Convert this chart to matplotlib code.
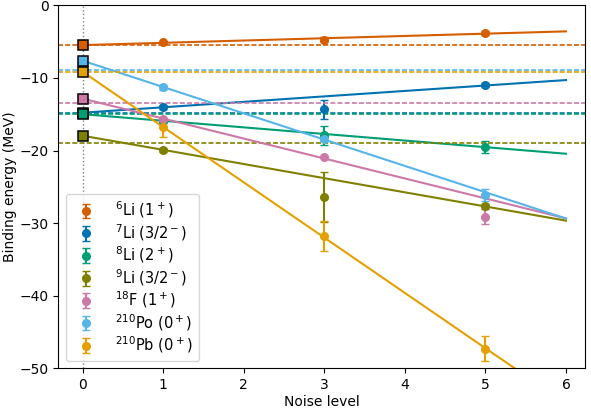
import numpy as np
import matplotlib
matplotlib.use("Agg")
import matplotlib.pyplot as plt

# noise levels where the noisy runs were done
noise = [1, 3, 5]

labels = [r"$^{6}$Li (1$^+$)", r"$^{7}$Li (3/2$^-$)", r"$^{8}$Li (2$^+$)",
          r"$^{9}$Li (3/2$^-$)", r"$^{18}$F (1$^+$)", r"$^{210}$Po (0$^+$)",
          r"$^{210}$Pb (0$^+$)"]
colors = ["#D55E00", "#0072B2", "#009E73", "#808000", "#CC79A7", "#56B4E9", "#E69F00"]

# binding energies at each noise level (MeV)
li6 = [-5.1, -4.73, -3.81]
li7 = [-14.0, -14.3, -11.0]
li8 = [-15.9, -17.9, -19.5]
li9 = [-19.9, -26.4, -27.7]
f18 = [-15.7, -20.9, -29.1]
po210 = [-11.3, -18.4, -26.1]
pb210 = [-16.8, -31.8, -47.3]

li6_err = [0.25, 0.3, 0.3]
li7_err = [0.3, 1.3, 0.3]
li8_err = [0.3, 1.3, 0.85]
li9_err = [0.3, 3.5, 0.3]
f18_err = [0.2, 0.2, 1.0]
po210_err = [0.3, 0.3, 0.8]
pb210_err = [1.3, 2.05, 1.75]

# noiseless reference energies (dashed lines)
exact = [-5.46, -14.78, -14.95, -18.97, -13.5, -8.86, -9.14]

values = [li6, li7, li8, li9, f18, po210, pb210]
errors = [li6_err, li7_err, li8_err, li9_err, f18_err, po210_err, pb210_err]

fig = plt.figure(figsize=(5.91, 4.08), dpi=100)
ax = fig.add_axes([0.0987, 0.0973, 0.8917, 0.8897])

ax.axvline(0, color="gray", ls=":", lw=1, zorder=0)

xs = np.array([0, 6])
for lab, c, y, e, ex in zip(labels, colors, values, errors, exact):
    # weighted linear fit, extrapolated to zero noise
    p = np.polyfit(noise, y, 1, w=1 / np.array(e))
    ax.axhline(ex, color=c, ls=(0, (3, 1.3)), lw=1.2)
    ax.plot(xs, np.polyval(p, xs), color=c, lw=1.5)
    ax.errorbar(noise, y, yerr=e, fmt="o", color=c, ms=5.5, capsize=3, label=lab)
    ax.plot([0], [p[1]], "s", color=c, mec="black", mew=1.1, ms=6.5, zorder=5)

ax.set_xlim(-0.3, 6.24)
ax.set_ylim(-50, 0)
ax.set_xticks(range(7))
ax.set_yticks([0, -10, -20, -30, -40, -50])
ax.set_xlabel("Noise level", labelpad=2)
ax.set_ylabel("Binding energy (MeV)", labelpad=2)
ax.legend(loc="lower left", fontsize=10.5, labelspacing=0.12, handletextpad=1.0)

fig.savefig("out.png", dpi=100)
